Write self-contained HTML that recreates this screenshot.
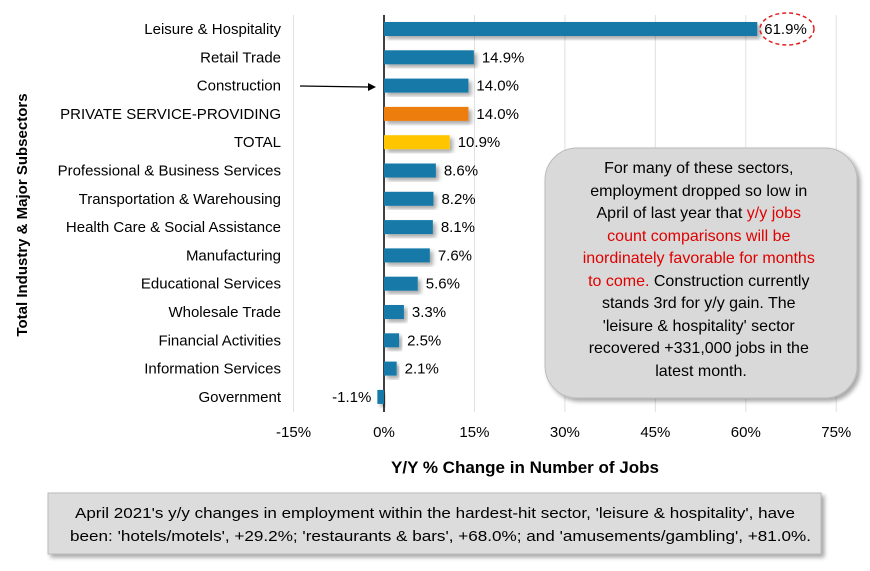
<!DOCTYPE html>
<html><head><meta charset="utf-8"><style>
body{margin:0;background:#fff;width:870px;height:566px;overflow:hidden;font-family:"Liberation Sans",sans-serif}
</style></head><body>
<svg width="870" height="566" xmlns="http://www.w3.org/2000/svg">
<defs><filter id="sh" x="-10%" y="-10%" width="130%" height="140%"><feDropShadow dx="3" dy="3" stdDeviation="2" flood-color="#000" flood-opacity="0.35"/></filter></defs>
<g id="grid"></g><g id="bars"></g><g id="labels"></g>
<text x="27" y="215" transform="rotate(-90 27 215)" text-anchor="middle" font-size="15" font-weight="bold" fill="#000">Total Industry &amp; Major Subsectors</text>
<text x="525" y="473" text-anchor="middle" font-size="17" font-weight="bold" fill="#000">Y/Y % Change in Number of Jobs</text>
<line x1="300" y1="86" x2="368" y2="87" stroke="#000" stroke-width="1.2"/>
<polygon points="368,83 376,87 368,91" fill="#000"/>
<ellipse cx="787" cy="29" rx="27" ry="16" fill="none" stroke="#e02020" stroke-width="1.5" stroke-dasharray="4,3"/>
<g>
<rect x="545" y="148" width="312" height="250" rx="32" fill="#d9d9d9" stroke="#bbb" filter="url(#sh)"/>
<text font-size="16" text-anchor="middle" fill="#000">
<tspan x="701" y="173">For many of these sectors,</tspan>
<tspan x="701" y="196">employment dropped so low in</tspan>
<tspan x="701" y="218">April of last year that <tspan fill="#e00000">y/y jobs</tspan></tspan>
<tspan x="701" y="241" fill="#e00000">count comparisons will be</tspan>
<tspan x="701" y="263" fill="#e00000">inordinately favorable for months</tspan>
<tspan x="701" y="286"><tspan fill="#e00000">to come.</tspan> Construction currently</tspan>
<tspan x="701" y="308">stands 3rd for y/y gain. The</tspan>
<tspan x="701" y="331">'leisure &amp; hospitality' sector</tspan>
<tspan x="701" y="353">recovered +331,000 jobs in the</tspan>
<tspan x="701" y="376">latest month.</tspan></text></g>
<g>
<rect x="48" y="493" width="773" height="61" fill="#dcdcdc" stroke="#bbb" filter="url(#sh)"/>
<text font-size="15" fill="#000" x="75" y="518" textLength="720" lengthAdjust="spacingAndGlyphs">April 2021's y/y changes in employment within the hardest-hit sector, 'leisure &amp; hospitality', have</text>
<text font-size="15" fill="#000" x="70" y="541" textLength="741" lengthAdjust="spacingAndGlyphs">been: 'hotels/motels', +29.2%; 'restaurants &amp; bars', +68.0%; and 'amusements/gambling', +81.0%.</text></g>
</svg>
<script>
const categories=["Leisure & Hospitality","Retail Trade","Construction","PRIVATE SERVICE-PROVIDING","TOTAL","Professional & Business Services","Transportation & Warehousing","Health Care & Social Assistance","Manufacturing","Educational Services","Wholesale Trade","Financial Activities","Information Services","Government"];
const values=[61.9,14.9,14.0,14.0,10.9,8.6,8.2,8.1,7.6,5.6,3.3,2.5,2.1,-1.1];
const ticks=[-15,0,15,30,45,60,75];
const NS="http://www.w3.org/2000/svg";
const x=v=>384+v*6.03;
const y=i=>29+i*28.3;
function mk(t,a,p){const e=document.createElementNS(NS,t);for(const k in a)e.setAttribute(k,a[k]);p.appendChild(e);return e;}
const grid=document.getElementById('grid'),bars=document.getElementById('bars'),labels=document.getElementById('labels');
ticks.forEach(t=>{
 const g=mk('line',{x1:x(t),x2:x(t),y1:15,y2:412,stroke:t===0?'#000':'#e0e0e0','stroke-width':t===0?1.5:1},grid);
 
 
 const tl=mk('text',{x:x(t),y:437,'text-anchor':'middle','font-size':15,fill:'#000'},labels);
 tl.textContent=t+'%';
 
 
});
values.forEach((v,i)=>{
 const col=i===3?'#ed7d0a':i===4?'#ffc600':'#1379a8';
 const x0=Math.min(x(0),x(v)),w=Math.abs(x(v)-x(0));
 const r=mk('rect',{x:x0,y:y(i)-7,width:w,height:14,fill:col,filter:'url(#sh)'},bars);
 
 
 const c=mk('text',{x:281,y:y(i)+5,'text-anchor':'end','font-size':15,fill:'#000'},labels);
 c.textContent=categories[i];
 
 
 const vl=mk('text',{x:v<0?x(v)-6:x(v)+(i===0?7:8),y:y(i)+5,'text-anchor':v<0?'end':'start','font-size':15,fill:'#000'},labels);
 vl.textContent=v.toFixed(1)+'%';
 
 
});
</script>
</body></html>
